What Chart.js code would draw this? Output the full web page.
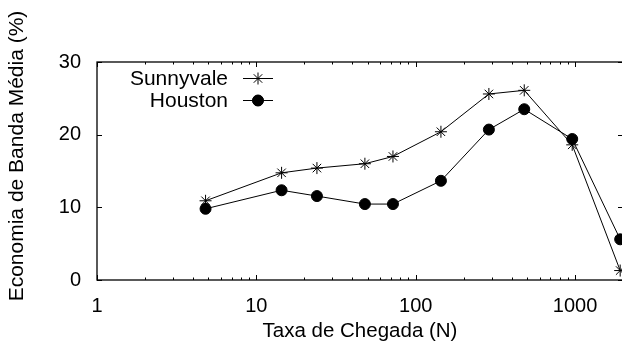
<!DOCTYPE html>
<html>
<head>
<meta charset="utf-8">
<script src="https://cdn.jsdelivr.net/npm/chart.js@4/dist/chart.umd.min.js"></script>
<style>
  html, body { margin: 0; padding: 0; background: #fff; overflow: hidden; }
  #wrap { width: 622px; height: 348px; overflow: hidden; position: relative; }
  canvas { display: block; }
</style>
</head>
<body>
<div id="wrap"><canvas id="c" width="630" height="348"></canvas></div>
<script>
// ---- data ----
const arrivalRates = [4.8, 14.4, 24, 48, 72, 144, 288, 480, 960, 1920];
const sunnyvale = [10.9, 14.75, 15.4, 16.0, 17.0, 20.4, 25.6, 26.1, 18.6, 1.3];
const houston   = [9.8, 12.35, 11.55, 10.45, 10.45, 13.65, 20.7, 23.5, 19.4, 5.6];
const xTickValues = [1, 10, 100, 1000];
const yTickValues = [0, 10, 20, 30];
const seriesNames = ['Sunnyvale', 'Houston'];
const xTitle = 'Taxa de Chegada (N)';
const yTitle = 'Economia de Banda Média (%)';

const FONT = 'Liberation Sans, Arial, Helvetica, sans-serif';

function toPoints(xs, ys) { return xs.map((x, i) => ({ x: x, y: ys[i] })); }

const framePlugin = {
  id: 'frame',
  afterDraw(chart) {
    const ctx = chart.ctx;
    const a = chart.chartArea;
    const xs = chart.scales.x, ys = chart.scales.y;
    ctx.save();
    ctx.strokeStyle = '#000';
    ctx.lineWidth = 1.3;
    ctx.strokeRect(a.left, a.top, a.right - a.left, a.bottom - a.top);
    ctx.lineWidth = 1;
    // x ticks (major + minor), bottom and top, inward
    ctx.beginPath();
    for (let d = 1; d <= 1000; d *= 10) {
      for (let m = 1; m <= 9; m++) {
        const v = d * m;
        if (v > xs.max) break;
        const px = Math.round(xs.getPixelForValue(v)) + 0.5;
        const len = (m === 1) ? 5 : 2.5;
        ctx.moveTo(px, a.bottom); ctx.lineTo(px, a.bottom - len);
        ctx.moveTo(px, a.top); ctx.lineTo(px, a.top + len);
      }
    }
    // y ticks left and right
    yTickValues.forEach(v => {
      const py = Math.round(ys.getPixelForValue(v)) + 0.5;
      ctx.moveTo(a.left, py); ctx.lineTo(a.left + 5, py);
      ctx.moveTo(a.right, py); ctx.lineTo(a.right - 5, py);
    });
    ctx.stroke();

    // y axis title
    ctx.fillStyle = '#000';
    ctx.font = '21px ' + FONT;
    ctx.textAlign = 'center';
    ctx.textBaseline = 'middle';
    ctx.save();
    ctx.translate(17, 156);
    ctx.rotate(-Math.PI / 2);
    ctx.fillText(yTitle, 0, 0);
    ctx.restore();

    // legend (text then sample)
    const rows = [78, 100];
    chart.data.datasets.forEach((ds, i) => {
      const y = rows[i];
      ctx.font = '21px ' + FONT;
      ctx.textAlign = 'right';
      ctx.textBaseline = 'middle';
      ctx.fillStyle = '#000';
      ctx.fillText(ds.label, 228, y + 1);
      ctx.beginPath();
      ctx.strokeStyle = '#000';
      ctx.lineWidth = 1;
      ctx.moveTo(243, y + 0.5); ctx.lineTo(273, y + 0.5);
      ctx.stroke();
      Chart.helpers.drawPoint(ctx, {
        pointStyle: ds.pointStyle, radius: ds.pointRadius, borderWidth: 1, rotation: 0
      }, 258, y + 0.5);
      if (ds.pointStyle === 'circle') { ctx.fillStyle = '#000'; ctx.fill(); }
    });
    ctx.restore();
  }
};

new Chart(document.getElementById('c'), {
  type: 'line',
  data: {
    datasets: [
      {
        label: seriesNames[0],
        data: toPoints(arrivalRates, sunnyvale),
        borderColor: '#000', backgroundColor: '#000',
        borderWidth: 1, pointStyle: 'star', pointRadius: 6,
        pointBorderWidth: 1, pointBorderColor: '#000', tension: 0
      },
      {
        label: seriesNames[1],
        data: toPoints(arrivalRates, houston),
        borderColor: '#000', backgroundColor: '#000',
        borderWidth: 1, pointStyle: 'circle', pointRadius: 5.5,
        pointBorderWidth: 1, pointBackgroundColor: '#000', pointBorderColor: '#000', tension: 0
      }
    ]
  },
  options: {
    responsive: false,
    animation: false,
    events: [],
    layout: { padding: { top: 62, right: 6.5, left: 0, bottom: 0 } },
    plugins: { legend: { display: false }, tooltip: { enabled: false } },
    scales: {
      x: {
        type: 'logarithmic',
        min: 1, max: 2000,
        grid: { display: false },
        border: { display: false },
        afterFit(s) { s.height = 68; },
        afterBuildTicks(s) { s.ticks = xTickValues.map(v => ({ value: v })); },
        ticks: {
          autoSkip: false, maxRotation: 0, padding: 6,
          color: '#000', font: { family: FONT, size: 20 },
          callback: v => String(v)
        },
        title: {
          display: true, text: xTitle, color: '#000',
          font: { family: FONT, size: 20.5 }, padding: { top: 0, bottom: 4 }
        }
      },
      y: {
        min: 0, max: 30,
        grid: { display: false },
        border: { display: false },
        afterFit(s) { s.width = 97; },
        afterBuildTicks(s) { s.ticks = yTickValues.map(v => ({ value: v })); },
        ticks: {
          padding: 8, color: '#000', font: { family: FONT, size: 20 },
          callback: v => String(v)
        }
      }
    }
  },
  plugins: [framePlugin]
});
</script>
</body>
</html>
